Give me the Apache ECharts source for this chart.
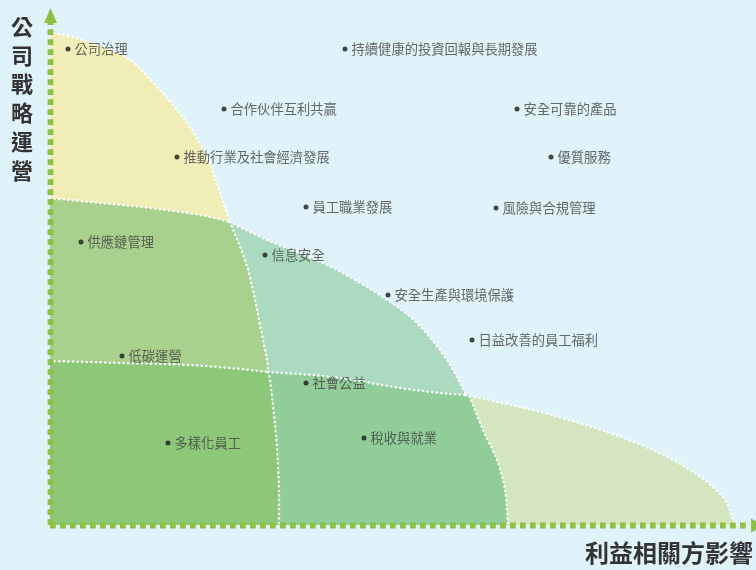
<!DOCTYPE html>
<html><head><meta charset="utf-8">
<script src="https://cdn.jsdelivr.net/npm/echarts@6/dist/echarts.min.js"></script>
<style>html,body{margin:0;padding:0;background:#e0f3fb}#c{width:756px;height:570px}</style>
</head><body><div id="c"></div>
<script>
// Topic names and positions (x = stakeholder influence, y = corporate strategy)
const topicNames = ['公司治理','持續健康的投資回報與長期發展','合作伙伴互利共贏','安全可靠的產品','推動行業及社會經濟發展','優質服務','員工職業發展','風險與合規管理','供應鏈管理','信息安全','安全生產與環境保護','日益改善的員工福利','低碳運營','社會公益','多樣化員工','稅收與就業'];
const topicX = [18,295,174,467,127,501,256,446,31,215,338,422,72,256,118,314];
const topicY = [476,476,416,416,368,368,318,317,283,270,230,185,169,142,82,87];

// Region boundary curves
const curveYellowOuter = [[0,493],[33,485],[77,467],[107,438],[137,402],[157,368],[170,332],[180,303]];
const curveGreenTop = [[0,327],[50,322],[100,317],[150,310],[180,303]];
const curveGreenRight = [[180,303],[195,265],[203,235],[210,200],[217,165],[218,153]];
const curveLowTop = [[0,164],[73,162],[140,160],[190,156],[218,153]];
const curveLowRight = [[218,153],[220,145],[224,110],[227,78],[229,35],[229,0]];
const curveMintTop = [[180,303],[217,285],[273,262],[310,242],[337,225],[367,202],[397,165],[416,130]];
const curveMintBottom = [[218,153],[283,148],[350,137],[390,132],[416,130]];
const curveMidRight = [[416,130],[420,127],[433,95],[447,65],[455,35],[458,0]];
const curveOuterLow = [[416,130],[490,113],[557,93],[607,73],[643,53],[673,28],[683,5],[685,0]];

const regionColors = ['#f0eeb6','#a9d18e','#8dc778','#acdac0','#91cd98','#d4e6c0'];

const boundaries = [curveYellowOuter, curveGreenTop, curveGreenRight, curveLowTop, curveLowRight, curveMintTop, curveMintBottom, curveMidRight, curveOuterLow];
// each region: list of [curveIndex, reversed]
const regionDefs = [
  [[0,false],[1,true]],
  [[1,false],[2,false],[3,true]],
  [[3,false],[4,false],[-1,false]],
  [[5,false],[6,true],[2,true]],
  [[6,false],[7,false],[4,true]],
  [[8,false],[7,true]]
];

// visual smoothing of a pixel polyline (Catmull-Rom), like the library's smooth lines
function smoothPx(pts) {
  if (pts.length < 3) return pts.slice();
  const out = [];
  const n = pts.length;
  for (let i = 0; i < n - 1; i++) {
    const p0 = pts[Math.max(i - 1, 0)], p1 = pts[i], p2 = pts[i + 1], p3 = pts[Math.min(i + 2, n - 1)];
    const steps = 10;
    for (let s = 0; s < steps; s++) {
      const t = s / steps, t2 = t * t, t3 = t2 * t;
      out.push([0, 1].map(k => 0.5 * ((2 * p1[k]) + (-p0[k] + p2[k]) * t + (2 * p0[k] - 5 * p1[k] + 4 * p2[k] - p3[k]) * t2 + (-p0[k] + 3 * p1[k] - 3 * p2[k] + p3[k]) * t3)));
    }
  }
  out.push(pts[n - 1]);
  return out;
}

const FONT = '"Noto Sans CJK TC","Noto Sans CJK SC",sans-serif';
const chart = echarts.init(document.getElementById('c'));
const axisColor = '#8dc13f';
const axisCommon = {
  type: 'value', min: 0,
  axisLine: { show: false }, axisTick: { show: false }, axisLabel: { show: false }, splitLine: { show: false }
};
chart.setOption({
  backgroundColor: '#e0f3fb',
  animation: false,
  grid: { left: 50, right: 6, top: 15, bottom: 45 },
  xAxis: Object.assign({}, axisCommon, { max: 700 }),
  yAxis: Object.assign({}, axisCommon, { max: 510 }),
  graphic: [
    { type: 'text', left: 11, top: 12, style: { text: '公\n司\n戰\n略\n運\n營', font: 'bold 22px ' + FONT, lineHeight: 28.8, fill: '#333' } },
    { type: 'text', right: 3, top: 541, style: { text: '利益相關方影響', font: 'bold 24px ' + FONT, fill: '#333' } }
  ],
  series: [
    {
      type: 'custom', z: 1, silent: true,
      data: regionDefs.map((r, i) => i),
      renderItem: (params, api) => {
        const i = params.dataIndex;
        let pts = [];
        regionDefs[i].forEach(([ci, r]) => {
          if (ci < 0) { pts.push(api.coord([0, 0])); return; }
          let c = smoothPx(boundaries[ci].map(p => api.coord(p)));
          if (r) c = c.reverse();
          pts = pts.concat(c);
        });
        return { type: 'polygon', shape: { points: pts }, style: { fill: regionColors[i], stroke: null } };
      }
    },
    {
      type: 'custom', z: 2, silent: true,
      data: boundaries.map((b, i) => i),
      renderItem: (params, api) => {
        const i = params.dataIndex;
        return { type: 'polyline', shape: { points: smoothPx(boundaries[i].map(p => api.coord(p))) },
          style: { fill: null, stroke: '#ffffff', lineWidth: 2.5, lineDash: [0, 4.6], lineCap: 'round' } };
      }
    },
    {
      // axes: dashed green lines with arrow heads
      type: 'custom', z: 4, silent: true,
      data: [0],
      renderItem: (params, api) => {
        const o = api.coord([0, 0]), xe = api.coord([700, 0]), ye = api.coord([0, 510]);
        const ls = { fill: null, stroke: axisColor, lineWidth: 5.8, lineDash: [5.7, 4.3] };
        return { type: 'group', children: [
          { type: 'line', shape: { x1: o[0], y1: o[1] + 0.5, x2: xe[0] - 1, y2: o[1] + 0.5 }, style: ls },
          { type: 'line', shape: { x1: o[0] + 0.5, y1: o[1], x2: o[0] + 0.5, y2: ye[1] + 7 }, style: ls },
          { type: 'polygon', shape: { points: [[xe[0] + 1, o[1] - 6.5], [xe[0] + 15, o[1] + 0.5], [xe[0] + 1, o[1] + 7.5]] }, style: { fill: axisColor } },
          { type: 'polygon', shape: { points: [[o[0] - 6, ye[1] + 8], [o[0] + 0.5, ye[1] - 7], [o[0] + 7, ye[1] + 8]] }, style: { fill: axisColor } }
        ] };
      }
    },
    {
      type: 'scatter', z: 5, symbolSize: 5,
      itemStyle: { color: '#1a1a1a' },
      label: { show: true, position: 'right', distance: 4, formatter: '{b}', fontSize: 13.3, color: '#444', fontFamily: FONT },
      data: topicNames.map((n, i) => ({ name: n, value: [topicX[i], topicY[i]] }))
    }
  ]
});
</script></body></html>
